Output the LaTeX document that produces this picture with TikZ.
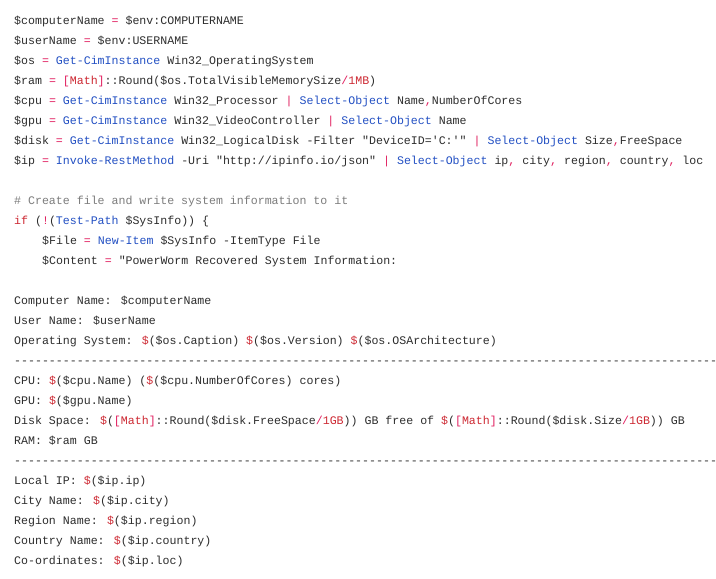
\documentclass[tikz,border=0pt]{standalone}
\usepackage{fontspec}
\newfontfamily\codefont{Liberation Mono}
\definecolor{txt}{RGB}{45,45,45}
\definecolor{kwc}{RGB}{35,80,195}
\definecolor{opc}{RGB}{225,30,95}
\definecolor{numc}{RGB}{205,40,50}
\definecolor{cmc}{RGB}{125,125,125}
\newcommand\cKw[1]{\textcolor{kwc}{#1}}
\newcommand\cOp[1]{\textcolor{opc}{#1}}
\newcommand\cNum[1]{\textcolor{numc}{#1}}
\newcommand\cCm[1]{\textcolor{cmc}{#1}}
\tikzset{ln/.style={anchor=base west,inner sep=0pt,text=txt,font=\codefont\fontsize{11.6}{14}\selectfont}}
\begin{document}
\begin{tikzpicture}[x=1pt,y=-1pt]
\path[use as bounding box,fill=white] (0,0) rectangle (716,579);
\clip (0,0) rectangle (716,579);
\def\L#1{(14,#1+4.5)}
\node[ln] (l1) at \L{20} {\$computerName \cOp{=} \$env:COMPUTERNAME};
\node[ln] (l2) at \L{40} {\$userName \cOp{=} \$env:USERNAME};
\node[ln] (l3) at \L{60} {\$os \cOp{=} \cKw{Get-CimInstance} Win32\_OperatingSystem};
\node[ln] (l4) at \L{80} {\$ram \cOp{=} \cOp{[}\cNum{Math}\cOp{]}::Round(\$os.TotalVisibleMemorySize\cOp{/}\cNum{1MB})};
\node[ln] (l5) at \L{100} {\$cpu \cOp{=} \cKw{Get-CimInstance} Win32\_Processor \cOp{|} \cKw{Select-Object} Name\cOp{,}NumberOfCores};
\node[ln] (l6) at \L{120} {\$gpu \cOp{=} \cKw{Get-CimInstance} Win32\_VideoController \cOp{|} \cKw{Select-Object} Name};
\node[ln] (l7) at \L{140} {\$disk \cOp{=} \cKw{Get-CimInstance} Win32\_LogicalDisk -Filter "DeviceID='C:'" \cOp{|} \cKw{Select-Object} Size\cOp{,}FreeSpace};
\node[ln] (l8) at \L{160} {\$ip \cOp{=} \cKw{Invoke-RestMethod} -Uri "http://ipinfo.io/json" \cOp{|} \cKw{Select-Object} ip\cOp{,} city\cOp{,} region\cOp{,} country\cOp{,} loc};
\node[ln] (l9) at \L{200} {\cCm{\# Create file and write system information to it}};
\node[ln] (l10) at \L{220} {\cNum{if} (\cOp{!}(\cKw{Test-Path} \$SysInfo)) \{};
\node[ln] (l11) at (42,244.5) {\$File \cOp{=} \cKw{New-Item} \$SysInfo -ItemType File};
\node[ln] (l12) at (42,264.5) {\$Content \cOp{=} "PowerWorm Recovered System Information:};
\node[ln] (l13) at \L{300} {Computer Name: \$computerName};
\node[ln] (l14) at \L{320} {User Name: \$userName};
\node[ln] (l15) at \L{340} {Operating System: \cNum{\$}(\$os.Caption) \cNum{\$}(\$os.Version) \cNum{\$}(\$os.OSArchitecture)};
\node[ln] (l16) at \L{360} {---------------------------------------------------------------------------------------------------------};
\node[ln] (l17) at \L{380} {CPU: \cNum{\$}(\$cpu.Name) (\cNum{\$}(\$cpu.NumberOfCores) cores)};
\node[ln] (l18) at \L{400} {GPU: \cNum{\$}(\$gpu.Name)};
\node[ln] (l19) at \L{420} {Disk Space: \cNum{\$}(\cOp{[}\cNum{Math}\cOp{]}::Round(\$disk.FreeSpace\cOp{/}\cNum{1GB})) GB free of \cNum{\$}(\cOp{[}\cNum{Math}\cOp{]}::Round(\$disk.Size\cOp{/}\cNum{1GB})) GB};
\node[ln] (l20) at \L{440} {RAM: \$ram GB};
\node[ln] (l21) at \L{460} {---------------------------------------------------------------------------------------------------------};
\node[ln] (l22) at \L{480} {Local IP: \cNum{\$}(\$ip.ip)};
\node[ln] (l23) at \L{500} {City Name: \cNum{\$}(\$ip.city)};
\node[ln] (l24) at \L{520} {Region Name: \cNum{\$}(\$ip.region)};
\node[ln] (l25) at \L{540} {Country Name: \cNum{\$}(\$ip.country)};
\node[ln] (l26) at \L{560} {Co-ordinates: \cNum{\$}(\$ip.loc)};
\end{tikzpicture}
\end{document}
